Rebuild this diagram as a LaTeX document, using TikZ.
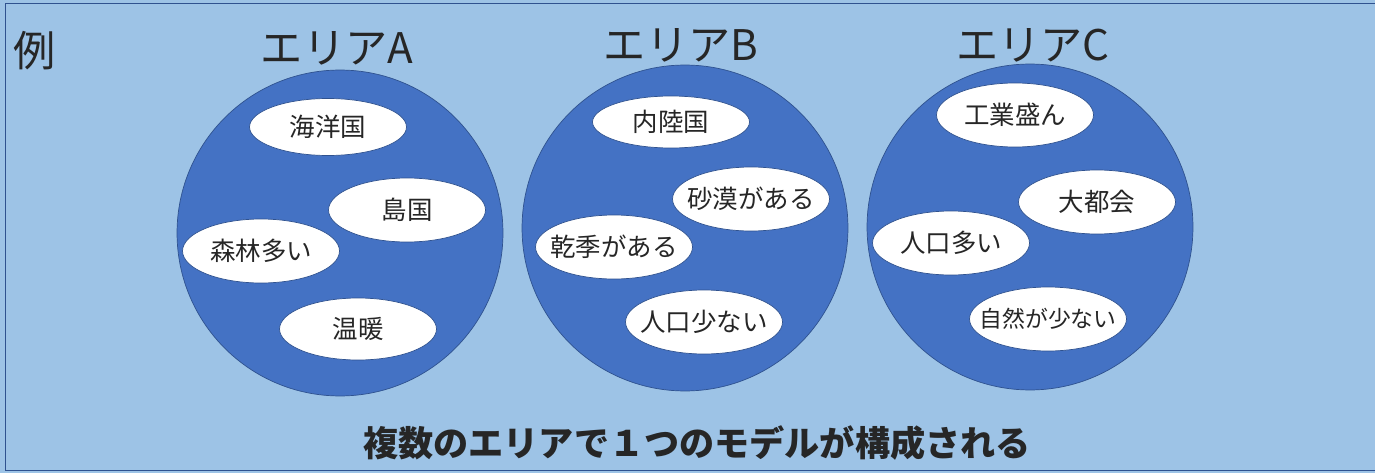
\documentclass[tikz,border=0pt]{standalone}
\usepackage{fontspec}
\setmainfont{Noto Sans CJK JP}
\usetikzlibrary{shapes.geometric}
\definecolor{bgblue}{HTML}{9DC3E6}
\definecolor{areablue}{HTML}{4472C4}
\definecolor{edgeblue}{HTML}{2F528F}

\begin{document}
\begin{tikzpicture}[
      x=0.02cm, y=-0.02cm,
      area/.style={circle, draw=edgeblue, fill=areablue, minimum size=6.52cm, inner sep=0},
      trait/.style={ellipse, draw=edgeblue, fill=white, minimum width=3.14cm,
                    minimum height=1.28cm, inner xsep=-0.6cm, inner ysep=0, text=black!85,
                    font=\fontsize{14.5}{16}\selectfont},
      areatitle/.style={font=\fontsize{24}{26}\selectfont, text=black!85},
    ]

    % ---- frame ----
    \useasboundingbox (0,0) rectangle (1375,473);
    \fill[bgblue] (0,0) rectangle (1375,473);
    \draw[edgeblue, thin] (1380,3) -- (5,3) -- (5,470) -- (1380,470);

    \node[areatitle] (ex) at (35,51) {例};

    % ---- area A ----
    \node[areatitle] (titleA) at (337,48) {エリアA};
    \node[area] (areaA) at (340,233) {};
    \node[trait, minimum height=1.14cm] (oceanA) at (328,127) {海洋国};
    \node[trait] (islandA) at (407,210) {島国};
    \node[trait] (forestA) at (261,251) {森林多い};
    \node[trait, minimum height=1.24cm] (warmA) at (358,329) {温暖};

    % ---- area B ----
    \node[areatitle] (titleB) at (681,45) {エリアB};
    \node[area] (areaB) at (685,228) {};
    \node[trait, minimum height=1.04cm] (inlandB) at (671,122) {内陸国};
    \node[trait] (desertB) at (751,199) {砂漠がある};
    \node[trait] (dryB) at (614,247) {乾季がある};
    \node[trait] (fewB) at (704,322) {人口少ない};

    % ---- area C ----
    \node[areatitle] (titleC) at (1033,45) {エリアC};
    \node[area] (areaC) at (1030,227) {};
    \node[trait] (industryC) at (1015,115) {工業盛ん};
    \node[trait] (cityC) at (1097,202) {大都会};
    \node[trait] (manyC) at (951,243) {人口多い};
    \node[trait, font=\fontsize{13}{15}\selectfont] (natureC) at (1048,319) {自然が少ない};

    % ---- caption ----
    \node[font=\fontsize{20}{22}\selectfont\bfseries, text=black!85] (caption)
      at (697,443) {複数のエリアで１つのモデルが構成される};

  \end{tikzpicture}
\end{document}
